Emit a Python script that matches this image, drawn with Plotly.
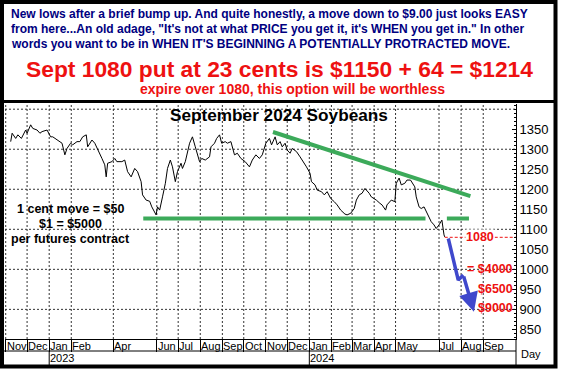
import plotly.graph_objects as go

# ---------------- data ----------------
dates = ["2022-11-08","2022-11-10","2022-11-15","2022-11-18","2022-11-23","2022-11-29","2022-12-01","2022-12-06","2022-12-09","2022-12-15","2022-12-19","2022-12-22","2022-12-29",
"2023-01-03","2023-01-06","2023-01-13","2023-01-19","2023-01-23","2023-01-26","2023-01-31","2023-02-03","2023-02-09","2023-02-13","2023-02-17","2023-02-22","2023-02-24",
"2023-03-02","2023-03-06","2023-03-10","2023-03-16","2023-03-20","2023-03-22","2023-03-24","2023-03-30","2023-04-03","2023-04-06","2023-04-13","2023-04-17","2023-04-21","2023-04-26",
"2023-05-01","2023-05-05","2023-05-10","2023-05-12","2023-05-17","2023-05-22","2023-05-25","2023-05-31","2023-06-02","2023-06-05","2023-06-09","2023-06-13","2023-06-16","2023-06-20","2023-06-23","2023-06-27","2023-06-30",
"2023-07-05","2023-07-07","2023-07-11","2023-07-17","2023-07-21","2023-07-25","2023-07-31","2023-08-03","2023-08-08","2023-08-14","2023-08-16","2023-08-21","2023-08-24","2023-08-28","2023-08-31",
"2023-09-05","2023-09-08","2023-09-13","2023-09-18","2023-09-22","2023-09-27","2023-10-03","2023-10-09","2023-10-13","2023-10-18","2023-10-23","2023-10-27",
"2023-11-01","2023-11-06","2023-11-09","2023-11-14","2023-11-17","2023-11-21","2023-11-24","2023-11-28","2023-12-01","2023-12-05","2023-12-08","2023-12-14","2023-12-19","2023-12-22","2023-12-28",
"2024-01-02","2024-01-04","2024-01-09","2024-01-12","2024-01-18","2024-01-22","2024-01-26","2024-01-31","2024-02-05","2024-02-09","2024-02-14","2024-02-20","2024-02-23","2024-02-28",
"2024-03-04","2024-03-07","2024-03-11","2024-03-15","2024-03-19","2024-03-25","2024-03-28","2024-04-04","2024-04-09","2024-04-12","2024-04-17","2024-04-19","2024-04-25","2024-04-30",
"2024-05-02","2024-05-06","2024-05-09","2024-05-14","2024-05-17","2024-05-22","2024-05-28","2024-05-30","2024-06-03","2024-06-06","2024-06-10","2024-06-13","2024-06-17","2024-06-20","2024-06-24","2024-06-27",
"2024-07-01","2024-07-05","2024-07-08","2024-07-09"]
prices = [1319,1340,1327,1336,1327,1348,1340,1361,1352,1348,1340,1344,1348,
1331,1331,1323,1315,1286,1302,1315,1311,1319,1319,1331,1336,1306,
1323,1315,1298,1277,1261,1231,1265,1269,1277,1269,1269,1273,1244,1231,
1252,1244,1219,1186,1173,1170,1156,1136,1156,1148,1181,1215,1252,1273,1256,1219,1244,
1265,1252,1269,1315,1331,1306,1269,1277,1273,1281,1306,1315,1327,1336,1315,
1319,1315,1319,1286,1290,1277,1269,1256,1273,1286,1277,1286,
1315,1327,1311,1331,1311,1319,1306,1315,1298,1290,1302,1294,1281,1273,1256,
1240,1219,1211,1198,1194,1186,1194,1177,1169,1161,1148,1138,1136,1140,
1152,1173,1186,1190,1202,1190,1181,1173,1165,1161,1148,1161,1173,1169,
1215,1228,1211,1215,1223,1223,1206,1181,1156,1152,1156,1144,1127,1119,1111,1102,
1111,1123,1086,1081]

support_dates_1 = ["2023-05-13", "2024-06-12"]
support_dates_2 = ["2024-07-12", "2024-08-12"]
support_level = 1127
trend_dates = ["2023-11-11", "2024-08-14"]
trend_values = [1343, 1183]
strike = 1080
strike_dates = ["2024-07-09", "2024-10-17"]
arrow_dates = ["2024-07-14", "2024-07-28", "2024-08-04", "2024-08-19"]
arrow_values = [1077, 973, 986, 894]
profit_labels = ["= $4000", "$6500", "$9000"]
profit_levels = [1000, 950, 904]

month_dates = ["2022-11-01","2022-12-01","2023-01-01","2023-02-01","2023-04-01","2023-06-01","2023-07-01","2023-08-01","2023-09-01","2023-10-01","2023-11-01",
               "2023-12-01","2024-01-01","2024-02-01","2024-03-01","2024-04-01","2024-05-01","2024-07-01","2024-08-01","2024-09-01"]
month_labels = ["Nov","Dec","Jan","Feb","Apr","Jun","Jul","Aug","Sep","Oct","Nov","Dec","Jan","Feb","Mar","Apr","May","Jul","Aug","Sep"]
year_dates = ["2023-01-01", "2024-01-01"]
year_labels = ["2023", "2024"]
y_ticks = [850, 900, 950, 1000, 1050, 1100, 1150, 1200, 1250, 1300, 1350]
y_grid = [900, 1000, 1100, 1200, 1300, 1400]
x_range = ["2022-10-31", "2024-10-17"]
y_range = [826, 1413]

# ---------------- layout helpers ----------------
W, H = 561, 374
L, R, T, B = 5, 45, 104, 35
PW, PH = W - L - R, H - T - B
def px(x):
    return (x - L) / PW
def py(y):
    return (H - B - y) / PH

NAVY = "#000080"
RED = "#EE1111"
GREEN = "#3CAA5A"
BLUE = "#3F48CC"
FONT = "Liberation Sans"

# dotted grid built from the tick arrays, drawn as one line trace beneath everything
gx, gy = [], []
for d in month_dates:
    gx += [d, d, None]
    gy += [y_range[0], y_range[1], None]
for v in y_grid:
    gx += [x_range[0], x_range[1], None]
    gy += [v, v, None]

fig = go.Figure()
fig.add_trace(go.Scatter(x=gx, y=gy, mode="lines", line=dict(color="#333333", width=1, dash="2px,2px"),
                         connectgaps=False, hoverinfo="skip"))
fig.add_trace(go.Scatter(x=dates, y=prices, mode="lines", line=dict(color="black", width=1), hoverinfo="skip"))
fig.add_trace(go.Scatter(x=support_dates_1, y=[support_level] * 2, mode="lines", line=dict(color=GREEN, width=4)))
fig.add_trace(go.Scatter(x=support_dates_2, y=[support_level] * 2, mode="lines", line=dict(color=GREEN, width=4)))
fig.add_trace(go.Scatter(x=trend_dates, y=trend_values, mode="lines", line=dict(color=GREEN, width=4)))
fig.add_trace(go.Scatter(x=strike_dates, y=[strike] * 2, mode="lines", line=dict(color=RED, width=1, dash="3px,2px")))
fig.add_trace(go.Scatter(x=arrow_dates[:3], y=arrow_values[:3], mode="lines", line=dict(color=BLUE, width=3.5)))

ann = []
ann.append(dict(x=arrow_dates[3], y=arrow_values[3], ax=arrow_dates[2], ay=arrow_values[2], xref="x", yref="y",
                axref="x", ayref="y", text="", showarrow=True, arrowhead=2, arrowsize=1.1, arrowwidth=3.5, arrowcolor=BLUE, standoff=0))

top_lines = [
    "New lows after a brief bump up. And quite honestly, a move down to $9.00 just looks EASY",
    "from here...An old adage, \"It's not at what PRICE you get it, it's WHEN you get in.\" In other",
    "words you want to be in WHEN IT'S BEGINNING A POTENTIALLY PROTRACTED MOVE.",
]
for txt, yy in zip(top_lines, [13.5, 29, 44.5]):
    ann.append(dict(x=px(9), y=py(yy), xref="paper", yref="paper", xanchor="left", yanchor="middle", showarrow=False,
                    text="<b>" + txt + "</b>", font=dict(family=FONT, size=12, color=NAVY)))
ann.append(dict(x=px(279), y=py(69), xref="paper", yref="paper", xanchor="center", yanchor="middle", showarrow=False,
                text="<b>Sept 1080 put at 23 cents is $1150 + 64 = $1214</b>", font=dict(family=FONT, size=22.8, color=RED)))
ann.append(dict(x=px(292), y=py(89), xref="paper", yref="paper", xanchor="center", yanchor="middle", showarrow=False,
                text="<b>expire over 1080, this option will be worthless</b>", font=dict(family=FONT, size=14, color=RED)))
ann.append(dict(x=px(279), y=py(115), xref="paper", yref="paper", xanchor="center", yanchor="middle", showarrow=False,
                text="<b>September 2024 Soybeans</b>", font=dict(family=FONT, size=17.2, color="black")))
for txt, yy in zip(["1 cent move = $50", "$1 = $5000", "per futures contract"], [209, 224, 239]):
    ann.append(dict(x=px(70), y=py(yy), xref="paper", yref="paper", xanchor="center", yanchor="middle", showarrow=False,
                    text="<b>" + txt + "</b>", font=dict(family=FONT, size=12.5, color="black")))
ann.append(dict(x=px(480), y=strike, xref="paper", yref="y", xanchor="center", yanchor="middle", showarrow=False,
                text="<b>%d</b>" % strike, font=dict(family=FONT, size=12.5, color=RED), bgcolor="white", borderpad=0))
for txt, lv in zip(profit_labels, profit_levels):
    ann.append(dict(x=px(515), y=lv, xref="paper", yref="y", xanchor="right", yanchor="middle", showarrow=False,
                    text="<b>" + txt + "</b>", font=dict(family=FONT, size=12.5, color=RED)))
for d, lab in zip(month_dates, month_labels):
    ann.append(dict(x=d, y=py(345.5), xref="x", yref="paper", xanchor="left", yanchor="middle", showarrow=False, xshift=-1,
                    text=lab, font=dict(family=FONT, size=11, color="black")))
for d, lab in zip(year_dates, year_labels):
    ann.append(dict(x=d, y=py(357.5), xref="x", yref="paper", xanchor="left", yanchor="middle", showarrow=False, xshift=-1,
                    text=lab, font=dict(family=FONT, size=11, color="black")))
ann.append(dict(x=px(519), y=py(354), xref="paper", yref="paper", xanchor="left", yanchor="middle", showarrow=False,
                text="Day", font=dict(family=FONT, size=11, color="black")))

shapes = []
shapes.append(dict(type="line", xref="paper", yref="paper", x0=px(0), x1=1, y0=py(351), y1=py(351), line=dict(color="black", width=1)))
shapes.append(dict(type="line", xref="paper", yref="paper", x0=1, x1=1, y0=0, y1=py(366), line=dict(color="black", width=1)))
for d in year_dates:
    shapes.append(dict(type="line", xref="x", yref="paper", x0=d, x1=d, y0=py(351), y1=py(365), line=dict(color="black", width=1)))
shapes.append(dict(type="line", xref="paper", yref="paper", x0=px(0), x1=px(557), y0=py(101.5), y1=py(101.5), line=dict(color="black", width=3)))
shapes.append(dict(type="rect", xref="paper", yref="paper", x0=px(2), x1=px(555.5), y0=py(366.5), y1=py(2), line=dict(color="black", width=4)))

fig.update_layout(
    width=W, height=H, autosize=False,
    margin=dict(l=L, r=R, t=T, b=B, pad=0),
    paper_bgcolor="white", plot_bgcolor="white",
    showlegend=False,
    annotations=ann, shapes=shapes,
    xaxis=dict(type="date", range=x_range, tickmode="array", tickvals=month_dates, showticklabels=False,
               ticks="outside", ticklen=12, tickcolor="black", tickwidth=1, showgrid=False,
               showline=True, linecolor="black", linewidth=1, zeroline=False, fixedrange=True),
    yaxis=dict(range=y_range, side="right", tickmode="array", tickvals=y_ticks, ticktext=[str(v) for v in y_ticks],
               ticks="inside", ticklen=4, tickcolor="black", showgrid=False, showline=True, linecolor="black", linewidth=1,
               zeroline=False, tickfont=dict(family=FONT, size=13, color="black"), fixedrange=True,
               minor=dict(tickmode="linear", tick0=800, dtick=10, ticks="inside", ticklen=2, tickcolor="black", showgrid=False)),
)

fig.write_html("out.html", config={"displayModeBar": False},
               post_script="document.body.style.margin='0px';document.body.style.overflow='hidden';")
